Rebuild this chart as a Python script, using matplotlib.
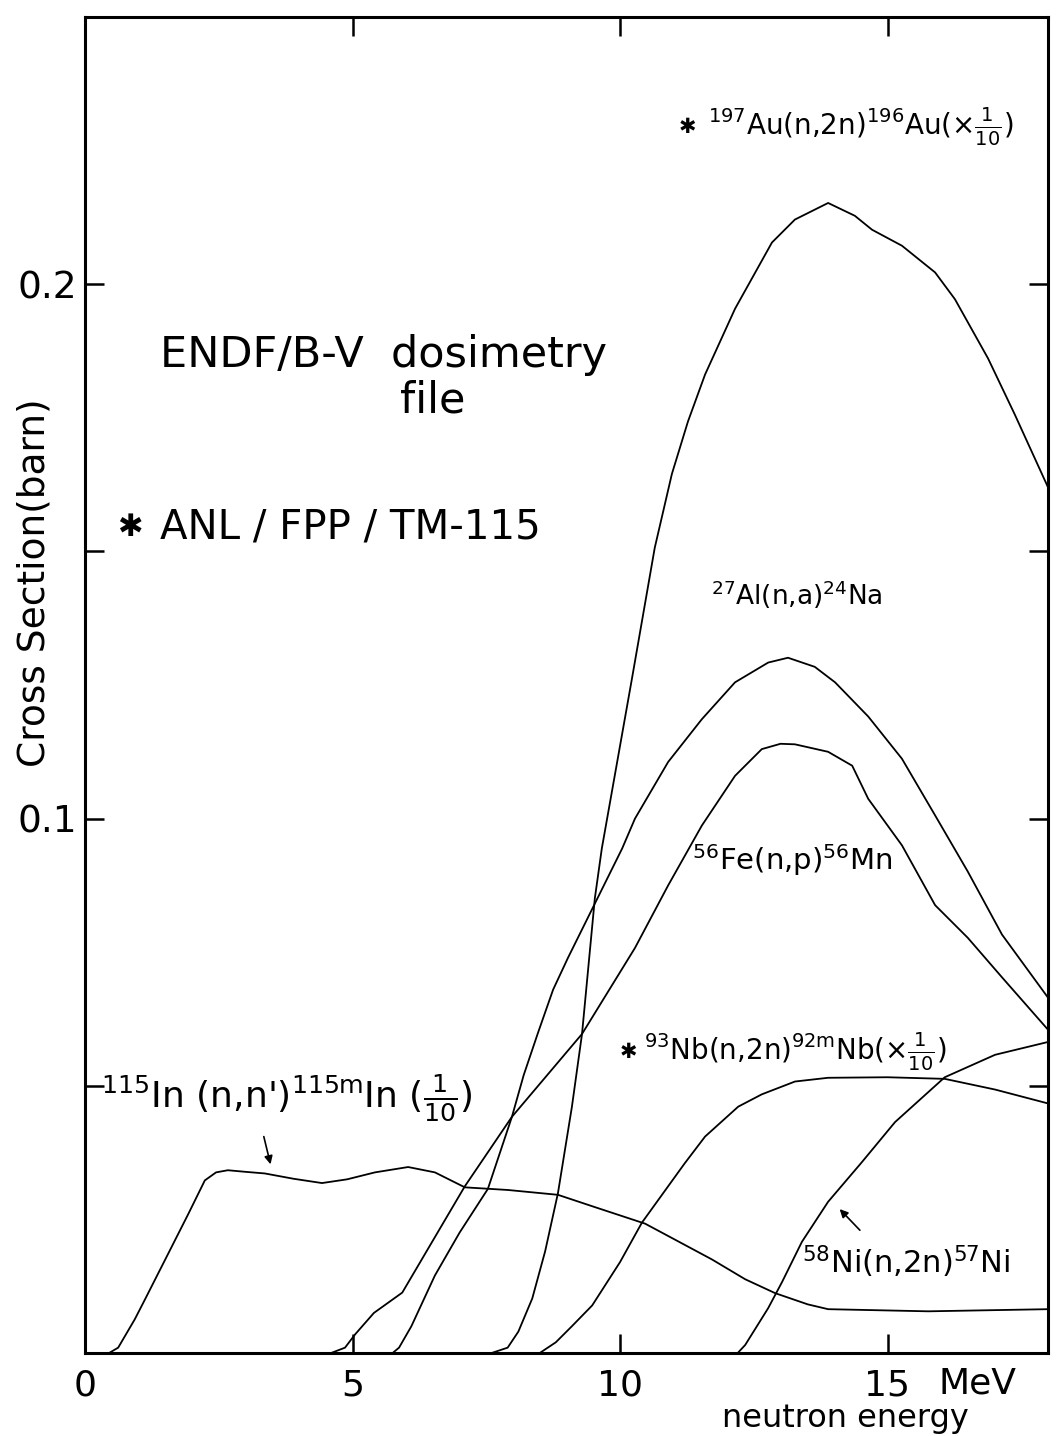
import matplotlib.pyplot as plt
from matplotlib.ticker import MultipleLocator, FuncFormatter

plt.rcParams['font.family'] = ['DejaVu Sans']
plt.rcParams['mathtext.default'] = 'regular'

# neutron energy (MeV) and cross section (barn)
in_e = [0.45, 0.62, 0.93, 1.12, 1.50, 1.93, 2.24, 2.45, 2.67, 3.0, 3.36, 3.9, 4.43, 4.9, 5.42, 6.04,
        6.54, 7.10, 7.91, 8.84, 9.53, 10.47, 11.03, 11.72, 12.34, 12.90, 13.51, 13.89, 15.76, 18.0]
in_xs = [0.0, 0.001, 0.0063, 0.010, 0.0175, 0.026, 0.0323, 0.0338, 0.0342, 0.0339, 0.0336, 0.0326,
         0.0318, 0.0325, 0.0338, 0.0348, 0.0338, 0.0310, 0.0305, 0.0296, 0.0273, 0.0242, 0.0212,
         0.0175, 0.0138, 0.0112, 0.0091, 0.0082, 0.0078, 0.0082]

fe_e = [4.6, 4.86, 5.05, 5.4, 5.93, 6.5, 7.10, 7.98, 9.29, 10.28, 10.90, 11.53, 12.15, 12.65, 13.0,
        13.27, 13.89, 14.34, 14.64, 15.27, 15.89, 16.50, 17.14, 18.0]
fe_xs = [0.0, 0.001, 0.0035, 0.0075, 0.0113, 0.021, 0.0312, 0.0442, 0.0597, 0.0758, 0.0875, 0.0987,
         0.1080, 0.1130, 0.1140, 0.1139, 0.1125, 0.1099, 0.1037, 0.0950, 0.0838, 0.0777, 0.0703, 0.0605]

al_e = [5.75, 5.87, 6.1, 6.54, 7.0, 7.53, 7.98, 8.2, 8.47, 8.75, 9.03, 10.04, 10.28, 10.90, 11.53,
        12.15, 12.77, 13.14, 13.64, 14.02, 14.64, 15.27, 15.89, 16.50, 17.14, 18.0]
al_xs = [0.0, 0.001, 0.005, 0.0145, 0.0225, 0.0307, 0.0442, 0.0520, 0.0600, 0.0680, 0.0740, 0.0944,
         0.1000, 0.1106, 0.1186, 0.1255, 0.1292, 0.1301, 0.1284, 0.1255, 0.1191, 0.1112, 0.1006,
         0.0901, 0.0783, 0.0665]

au_e = [7.6, 7.9, 8.1, 8.36, 8.6, 8.84, 9.1, 9.29, 9.53, 9.66, 10.22, 10.65, 10.97, 11.27, 11.59,
        12.15, 12.84, 13.27, 13.89, 14.39, 14.71, 15.27, 15.89, 16.26, 16.88, 17.38, 18.0]
au_xs = [0.0, 0.001, 0.004, 0.0102, 0.019, 0.0299, 0.046, 0.0597, 0.0851, 0.0944, 0.1260, 0.1507,
         0.1645, 0.1743, 0.1831, 0.1954, 0.2078, 0.2121, 0.2152, 0.2128, 0.2102, 0.2072, 0.2022,
         0.1972, 0.1861, 0.1756, 0.162]

nb_e = [8.5, 8.8, 9.1, 9.48, 10.0, 10.41, 11.21, 11.59, 12.21, 12.65, 13.27, 13.89, 15.0, 16.07, 17.01, 18.0]
nb_xs = [0.0, 0.002, 0.005, 0.0089, 0.017, 0.0244, 0.0355, 0.0405, 0.0461, 0.0484, 0.0508, 0.0515,
         0.0516, 0.0513, 0.0493, 0.0467]

ni_e = [12.2, 12.34, 12.77, 13.03, 13.40, 13.89, 14.52, 15.14, 16.07, 17.01, 18.0]
ni_xs = [0.0, 0.0015, 0.0084, 0.0133, 0.0208, 0.0283, 0.0357, 0.0432, 0.0516, 0.0558, 0.0582]

x_ticks = [0, 5, 10, 15]
x_tick_labels = ['0', '5', '10', '15']

fig = plt.figure(figsize=(10.56, 14.36), dpi=100)
ax = fig.add_axes([85 / 1056, 1 - 1353 / 1436, 963 / 1056, 1336 / 1436])

for e, xs in [(in_e, in_xs), (fe_e, fe_xs), (al_e, al_xs), (au_e, au_xs), (nb_e, nb_xs), (ni_e, ni_xs)]:
    ax.plot(e, xs, color='black', lw=1.3)

ax.set_xlim(0, 18)
ax.set_ylim(0, 0.25)
for s in ax.spines.values():
    s.set_linewidth(2.2)

ax.set_xticks(x_ticks)
ax.set_xticklabels(x_tick_labels)
ax.yaxis.set_major_locator(MultipleLocator(0.05))
ax.yaxis.set_major_formatter(FuncFormatter(lambda v, p: {0.1: '0.1', 0.2: '0.2'}.get(round(v, 2), '')))
ax.tick_params(direction='in', length=14, width=1.8, top=True, right=True, labelsize=27)
ax.tick_params(axis='x', pad=11, labelsize=26)
ax.tick_params(axis='y', pad=6)

fig.text(938 / 1056, 1 - 1384 / 1436, 'MeV', fontsize=26, va='center', ha='left')
fig.text(845 / 1056, 1 - 1419 / 1436, 'neutron energy', fontsize=23, va='center', ha='center')
fig.text(0.033, 1 - 583 / 1436, 'Cross Section(barn)', rotation=90, fontsize=27, ha='center', va='center')

# annotations
ax.text(1.40, 0.1868, 'ENDF/B-V  dosimetry', fontsize=31, va='center')
ax.text(6.49, 0.1783, 'file', fontsize=31, va='center', ha='center')
ax.text(0.6, 0.1545, '✱', fontsize=22, va='center')
ax.text(1.40, 0.1545, 'ANL / FPP / TM-115', fontsize=29, va='center')

ax.text(11.1, 0.2295, '✱', fontsize=15, va='center')
ax.text(11.65, 0.2295, r'$^{197}$Au(n,2n)$^{196}$Au($\times\frac{1}{10}$)', fontsize=20, va='center')
ax.text(11.7, 0.1418, r'$^{27}$Al(n,a)$^{24}$Na', fontsize=19, va='center')
ax.text(11.35, 0.0923, r'$^{56}$Fe(n,p)$^{56}$Mn', fontsize=21, va='center')
ax.text(10.0, 0.0563, '✱', fontsize=15, va='center')
ax.text(10.45, 0.0563, r'$^{93}$Nb(n,2n)$^{92m}$Nb($\times\frac{1}{10}$)', fontsize=20, va='center')
ax.text(0.30, 0.0479, r"$^{115}$In (n,n')$^{115m}$In ($\frac{1}{10}$)", fontsize=26, va='center')
ax.text(13.4, 0.0170, r'$^{58}$Ni(n,2n)$^{57}$Ni', fontsize=22, va='center')

ax.annotate('', xy=(3.48, 0.0348), xytext=(3.33, 0.0410),
            arrowprops=dict(arrowstyle='-|>', color='black', lw=1.2, mutation_scale=12))
ax.annotate('', xy=(14.07, 0.0273), xytext=(14.52, 0.0226),
            arrowprops=dict(arrowstyle='-|>', color='black', lw=1.2, mutation_scale=12))

fig.savefig('out.png', dpi=100)
